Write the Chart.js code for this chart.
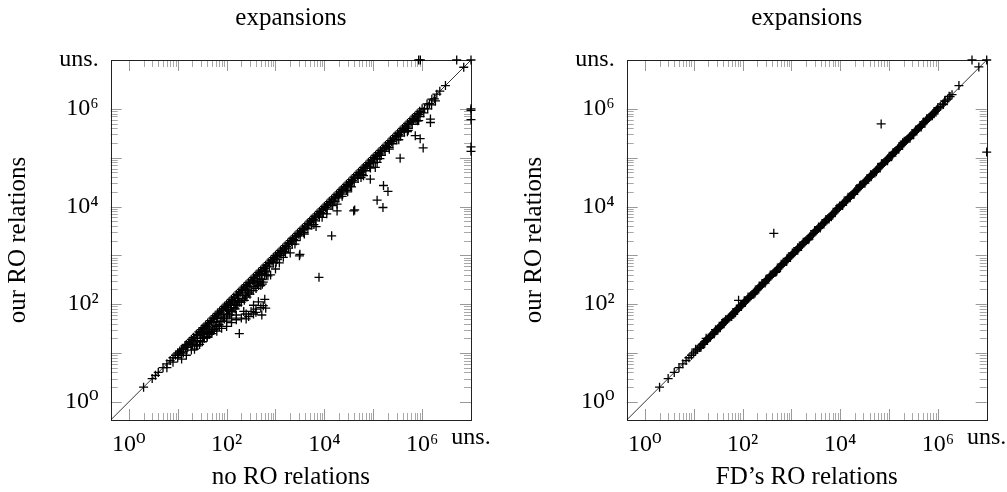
<!DOCTYPE html>
<html>
<head>
<meta charset="utf-8">
<script src="https://cdn.jsdelivr.net/npm/chart.js@4.4.1/dist/chart.umd.min.js"></script>
<style>
  body { margin: 0; background: #fff; }
  #wrap { position: relative; width: 1007px; height: 492px; }
  canvas { position: absolute; top: 0; }
</style>
</head>
<body>
<div id="wrap">
  <canvas id="chartLeft" width="500" height="492" style="left:0px"></canvas>
  <canvas id="chartRight" width="507" height="492" style="left:500px"></canvas>
</div>
<script>
// valeur utilisée pour "uns." (non résolu)
const UNS = 10000000;
const axisMin = 0.425;
const axisMax = UNS;

const tickValues = [1, 100, 10000, 1000000, UNS];
const tickLabels = ['10⁰', '10²', '10⁴', '10⁶', 'uns.'];
// graduations pgfplots (décades + mineures)
const decades = [1, 10, 100, 1000, 10000, 100000, 1000000];
const minorSteps = [2, 3, 4, 5, 6, 7, 8, 9];

/* ---- graphique gauche : no RO relations vs our RO relations ---- */
// instances avec le même nombre d'expansions
const leftEqual = [2, 3, 3.5, 4, 5, 6, 7, 8, 9, 10, 11, 12, 14, 15, 17, 19, 21, 24, 27, 30, 33, 37, 41, 46, 52, 58, 65, 72, 80, 90,
  100, 112, 125, 140, 158, 178, 200, 224, 250, 280, 316, 355, 400, 450, 500, 560, 630, 710, 800, 900,
  1000, 1120, 1260, 1410, 1580, 1780, 2000, 2240, 2510, 2820, 3160, 3550, 3980, 4470, 5010, 5620, 6310, 7080, 7940, 8910,
  10000, 11200, 12600, 14100, 15800, 17800, 20000, 22400, 25100, 28200, 31600, 35500, 39800, 44700, 50100, 56200, 63100, 70800, 79400, 89100,
  100000, 112000, 126000, 141000, 158000, 178000, 200000, 224000, 251000, 282000, 316000, 355000, 398000, 447000, 501000, 562000, 631000, 708000, 794000, 891000,
  1000000, 1260000, 1580000, 2000000, 2300000, 3000000, 7100000];
// un peu sous la diagonale
const leftMid = [[10.5, 9.5], [11.5, 10.5], [13, 12], [14.5, 13], [16, 14.5], [18, 16], [20, 18], [22.5, 20], [25.5, 23], [28.5, 26],
  [31.5, 28], [35, 31.5], [39, 35], [43.5, 39], [49, 44], [55, 49.5], [61.5, 55], [68.5, 61.5], [76, 68.5], [85, 76.5], [95, 85.5],
  [106, 95], [118, 106], [132, 119], [149, 134], [168, 151], [189, 170], [212, 191], [237, 213], [265, 238], [298, 268], [335, 301],
  [377, 339], [425, 382], [475, 427], [530, 477], [595, 535], [670, 603], [755, 680], [850, 765], [950, 855], [1060, 954], [1190, 1070],
  [1330, 1200], [1500, 1350], [1680, 1510], [1890, 1700], [2120, 1910], [2370, 2130], [2660, 2390], [2990, 2690], [3350, 3010],
  [3760, 3380], [4220, 3800], [4740, 4270], [5320, 4790], [5970, 5370], [6700, 6030], [7510, 6760], [8430, 7590], [9460, 8510],
  [10600, 9540], [11900, 10700], [13300, 12000], [15000, 13500], [16800, 15100], [18900, 17000], [21200, 19100], [23700, 21300],
  [26600, 23900], [29900, 26900], [33500, 30100], [37600, 33800], [42200, 38000], [47400, 42700], [53200, 47900], [59700, 53700],
  [67000, 60300], [75100, 67600], [84300, 75900], [94600, 85100], [106000, 95400], [119000, 107000], [133000, 120000], [150000, 135000],
  [168000, 151000], [189000, 170000], [212000, 191000], [237000, 213000], [266000, 239000], [299000, 269000], [335000, 301000],
  [376000, 338000], [422000, 380000], [474000, 427000], [532000, 479000], [597000, 537000], [670000, 603000], [751000, 676000],
  [843000, 759000], [946000, 851000], [1120000, 1010000], [1410000, 1270000], [1780000, 1600000]];
// juste sous la diagonale
const leftBelow = [[6, 5], [8, 6.5], [10, 8], [13, 10], [16, 13], [20, 15], [25, 20], [30, 24], [36, 28], [45, 34], [55, 42], [65, 52],
  [80, 62], [100, 75], [120, 95], [145, 112], [175, 130], [210, 160], [250, 195], [300, 230], [360, 280], [430, 330], [520, 400], [620, 480],
  [750, 580], [900, 700], [1080, 820], [1300, 1000], [1550, 1200], [1850, 1400], [2200, 1700], [2650, 2000], [3200, 2500], [3800, 2900],
  [4600, 3500], [5500, 4200], [6600, 5100], [7900, 6100], [9500, 7200], [11400, 8800], [13700, 10500], [16400, 12600], [19700, 15000],
  [23600, 18000], [28300, 21500], [34000, 26000], [40800, 31500], [49000, 37500], [58800, 45000], [70500, 54000], [84600, 65000],
  [101000, 78000], [122000, 93000], [146000, 112000], [175000, 134000], [210000, 161000], [252000, 193000], [302000, 232000],
  [363000, 278000], [435000, 334000], [522000, 400000], [627000, 480000], [752000, 577000], [903000, 690000], [1080000, 830000],
  [1300000, 1000000], [1560000, 1200000], [1870000, 1450000],
  [40, 27], [150, 100], [600, 400], [2500, 1700], [9000, 6000], [30000, 20000], [120000, 80000], [500000, 340000],
  [110, 78], [170, 120], [270, 190], [420, 300], [660, 460], [1030, 720], [1600, 1120], [3900, 2730], [6100, 4270],
  [14800, 10400], [23100, 16200], [36000, 25200], [56200, 39300], [87600, 61300], [137000, 95700], [213000, 149000],
  [333000, 233000], [519000, 363000], [810000, 567000]];
// bande plus basse (petites instances)
const leftLower = [[22, 12], [25, 14], [28, 15], [32, 17], [35, 20], [40, 22], [45, 24], [50, 28], [56, 30], [63, 35], [70, 38],
  [80, 45], [90, 50], [100, 55], [115, 60], [130, 70], [150, 80], [170, 95], [200, 110], [230, 120], [260, 140], [300, 160],
  [350, 190], [400, 210], [450, 240], [501, 240], [537, 257], [562, 282], [700, 380], [794, 398], [1000, 525], [1200, 700],
  [1445, 912], [2000, 1120], [3090, 977], [3160, 1047],
  [12, 7.5], [15, 9], [19, 11.5], [24, 14], [29, 18], [34, 21], [42, 25], [52, 31], [60, 36], [74, 44], [86, 52], [105, 63],
  [125, 75], [140, 85], [160, 95], [185, 110], [215, 130], [245, 150], [280, 170], [320, 190], [380, 230], [430, 260],
  [480, 290], [530, 320], [650, 390]];
// branche du bas : beaucoup moins d'expansions
const leftBranch = [[15, 14], [20, 16], [25, 17], [32, 20], [40, 21], [50, 25], [63, 28], [79, 32], [100, 35], [126, 42], [158, 48],
  [200, 52], [251, 63], [316, 71], [398, 79], [501, 85], [562, 93], [631, 83], [525, 60], [398, 68], [282, 56], [224, 71], [355, 95],
  [447, 112], [603, 126], [158, 60], [100, 45], [71, 35], [45, 26], [32, 24], [126, 52], [251, 50], [355, 63], [182, 25]];
// points isolés
const leftOutliers = [[7760, 355], [14100, 2510], [6760, 3890], [11200, 7080], [18200, 8130], [18200, 11200], [39800, 8130],
  [41700, 8510], [63100, 42700], [87100, 36300], [110000, 63100], [120000, 13500], [158000, 9550], [162000, 26900], [200000, 20400],
  [355000, 97700], [724000, 282000], [851000, 575000], [912000, 245000], [1050000, 158000], [1480000, 617000], [1480000, 525000]];
// non résolus (bord haut / bord droit)
const leftUnsolved = [[850000, UNS], [920000, UNS], [5100000, UNS], [UNS, UNS],
  [UNS, 1000000], [UNS, 930000], [UNS, 600000], [UNS, 166000], [UNS, 135000]];

/* ---- graphique droit : FD's RO relations vs our RO relations ---- */
const rightEqual = [2, 3, 4, 5, 6, 7, 8, 9, 10, 11, 12, 14, 15, 17, 19, 21, 24, 27, 30, 33, 37, 41, 46, 52, 58, 65, 72, 80, 90,
  100, 112, 125, 140, 158, 178, 200, 224, 250, 280, 316, 355, 400, 450, 500, 560, 630, 710, 800, 900,
  1000, 1120, 1260, 1410, 1580, 1780, 2000, 2240, 2510, 2820, 3160, 3550, 3980, 4470, 5010, 5620, 6310, 7080, 7940, 8910,
  10000, 11200, 12600, 14100, 15800, 17800, 20000, 22400, 25100, 28200, 31600, 35500, 39800, 44700, 50100, 56200, 63100, 70800, 79400, 89100,
  100000, 112000, 126000, 141000, 158000, 178000, 200000, 224000, 251000, 282000, 316000, 355000, 398000, 447000, 501000, 562000, 631000, 708000, 794000, 891000,
  1000000, 1260000, 1580000, 1950000,
  13, 16, 18, 20, 22.5, 25.5, 28.5, 31.5, 35, 39, 43.5, 49, 55, 61.5, 68.5, 76, 85, 95,
  106, 118, 132, 149, 168, 189, 212, 237, 265, 298, 335, 377, 425, 475, 530, 595, 670, 755, 850, 950,
  1060, 1190, 1330, 1500, 1680, 1890, 2120, 2370, 2660, 2990, 3350, 3760, 4220, 4740, 5320, 5970, 6700, 7510, 8430, 9460,
  10600, 11900, 13300, 15000, 16800, 18900, 21200, 23700, 26600, 29900, 33500, 37600, 42200, 47400, 53200, 59700, 67000, 75100, 84300, 94600,
  106000, 119000, 133000, 150000, 168000, 189000, 212000, 237000, 266000, 299000, 335000, 376000, 422000, 474000, 532000, 597000, 670000, 751000, 843000, 946000,
  1120000, 1410000, 1780000];
const rightNear = [[11, 12], [14, 13], [18, 20], [22, 21], [28, 30], [35, 33], [45, 48], [60, 56], [75, 80], [95, 90], [130, 140],
  [170, 160], [220, 235], [290, 270], [370, 395], [480, 450], [620, 660], [800, 750], [1050, 1120], [1350, 1270], [1750, 1860],
  [2300, 2150], [3000, 3200], [3900, 3650], [5100, 5400], [6600, 6200], [8600, 9200], [11200, 10500], [14500, 15500], [19000, 17800],
  [25000, 26500], [32000, 30000], [42000, 44500], [55000, 51500], [72000, 76000], [93000, 87000], [121000, 128000], [158000, 148000],
  [205000, 218000], [268000, 250000], [350000, 370000], [455000, 425000], [590000, 625000], [770000, 720000], [1000000, 1060000],
  [1300000, 1220000], [1700000, 1800000], [2700000, 3000000], [6900000, 7200000],
  [16, 15], [26, 24.5], [40, 42.5], [66, 62], [110, 116], [180, 170], [300, 318], [500, 470], [820, 870], [1350, 1430],
  [2200, 2080], [3600, 3820], [5900, 5560], [9700, 10300], [16000, 15100], [26000, 27600], [43000, 40500], [70000, 74200],
  [115000, 108000], [190000, 201000], [310000, 292000], [510000, 540000], [840000, 790000], [1380000, 1460000]];
const rightOutliers = [[83, 120], [437, 2820], [69000, 490000]];
const rightUnsolved = [[5000000, UNS], [UNS, UNS], [UNS, 130000]];

const serif = "'Liberation Serif', 'DejaVu Serif', serif";

function toPoints(list) {
  return list.map(function(p) { return {x: p[0], y: p[1]}; });
}

// cadre + graduations à l'intérieur, comme pgfplots
const pgfAxisPlugin = {
  id: 'pgfAxis',
  beforeDatasetsDraw(chart) {
    const ctx = chart.ctx;
    const a = chart.chartArea;
    const xs = chart.scales.x, ys = chart.scales.y;
    function marks(values, len, color) {
      ctx.strokeStyle = color;
      ctx.lineWidth = 1;
      ctx.beginPath();
      values.forEach(function(v) {
        const px = Math.round(xs.getPixelForValue(v)) + 0.5;
        const py = Math.round(ys.getPixelForValue(v)) + 0.5;
        ctx.moveTo(px, a.bottom); ctx.lineTo(px, a.bottom - len);
        ctx.moveTo(px, a.top); ctx.lineTo(px, a.top + len);
        ctx.moveTo(a.left, py); ctx.lineTo(a.left + len, py);
        ctx.moveTo(a.right, py); ctx.lineTo(a.right - len, py);
      });
      ctx.stroke();
    }
    const minors = [];
    decades.slice(0, -1).forEach(function(d) {
      minorSteps.forEach(function(k) { minors.push(k * d); });
    });
    ctx.save();
    marks(minors, 7, '#a8a8a8');
    marks(decades, 11, '#999999');
    ctx.strokeStyle = '#222';
    ctx.lineWidth = 1;
    ctx.strokeRect(Math.round(a.left) + 0.5, Math.round(a.top) + 0.5,
      Math.round(a.right) - Math.round(a.left), Math.round(a.bottom) - Math.round(a.top));
    ctx.restore();
  }
};

function makeChart(id, xTitle, yWidth, yTitlePad, rightPad, groups) {
  const datasets = [{
    label: 'diagonal',
    data: [{x: axisMin, y: axisMin}, {x: axisMax, y: axisMax}],
    showLine: true,
    borderColor: '#000',
    borderWidth: 0.8,
    pointRadius: 0
  }];
  groups.forEach(function(g) {
    datasets.push({
      label: 'instances',
      data: g,
      pointStyle: 'cross',
      pointRadius: 4.5,
      pointHoverRadius: 4.5,
      borderColor: '#000',
      backgroundColor: '#000',
      borderWidth: 1.3,
      clip: false
    });
  });

  return new Chart(document.getElementById(id), {
    type: 'scatter',
    data: {datasets: datasets},
    plugins: [pgfAxisPlugin],
    options: {
      responsive: false,
      animation: false,
      events: [],
      layout: {padding: {left: 0, right: rightPad, top: 0, bottom: 0}},
      plugins: {
        legend: {display: false},
        tooltip: {enabled: false},
        title: {
          display: true,
          text: 'expansions',
          fullSize: false,
          color: '#000',
          font: {family: serif, size: 25, weight: 'normal', lineHeight: 1.2},
          padding: {top: 3, bottom: 27}
        }
      },
      scales: {
        x: {
          type: 'logarithmic',
          position: 'bottom',
          min: axisMin,
          max: axisMax,
          grid: {display: false, drawTicks: false},
          border: {display: false},
          afterBuildTicks: function(s) { s.ticks = tickValues.map(function(v) { return {value: v}; }); },
          afterFit: function(s) { s.height = 72; },
          ticks: {
            autoSkip: false,
            maxRotation: 0,
            padding: 0,
            color: '#000',
            font: function(c) {
              const uns = c.tick && c.tick.value === UNS;
              return {family: serif, size: 24, lineHeight: uns ? 1.45 : 2.1};
            },
            callback: function(v) { return tickLabels[tickValues.indexOf(v)]; }
          },
          title: {
            display: true,
            text: xTitle,
            color: '#000',
            font: {family: serif, size: 25, lineHeight: 1.2},
            padding: {top: 0, bottom: 0}
          }
        },
        y: {
          type: 'logarithmic',
          position: 'left',
          min: axisMin,
          max: axisMax,
          grid: {display: false, drawTicks: false},
          border: {display: false},
          afterBuildTicks: function(s) { s.ticks = tickValues.map(function(v) { return {value: v}; }); },
          afterFit: function(s) { s.width = yWidth; },
          ticks: {
            autoSkip: false,
            padding: 12,
            color: '#000',
            font: {family: serif, size: 24, lineHeight: 1.2},
            callback: function(v) { return tickLabels[tickValues.indexOf(v)]; }
          },
          title: {
            display: true,
            text: 'our RO relations',
            color: '#000',
            font: {family: serif, size: 25, lineHeight: 1.2},
            padding: {top: yTitlePad, bottom: 0}
          }
        }
      }
    }
  });
}

const leftChart = makeChart('chartLeft', 'no RO relations', 110.7, 3, 29, [
  toPoints(leftEqual.map(function(v) { return [v, v]; })),
  toPoints(leftMid), toPoints(leftBelow), toPoints(leftLower), toPoints(leftBranch),
  toPoints(leftOutliers), toPoints(leftUnsolved)
]);

const rightChart = makeChart('chartRight', 'FD’s RO relations', 126.7, 19, 20.3, [
  toPoints(rightEqual.map(function(v) { return [v, v]; })),
  toPoints(rightNear), toPoints(rightOutliers), toPoints(rightUnsolved)
]);
</script>
</body>
</html>
